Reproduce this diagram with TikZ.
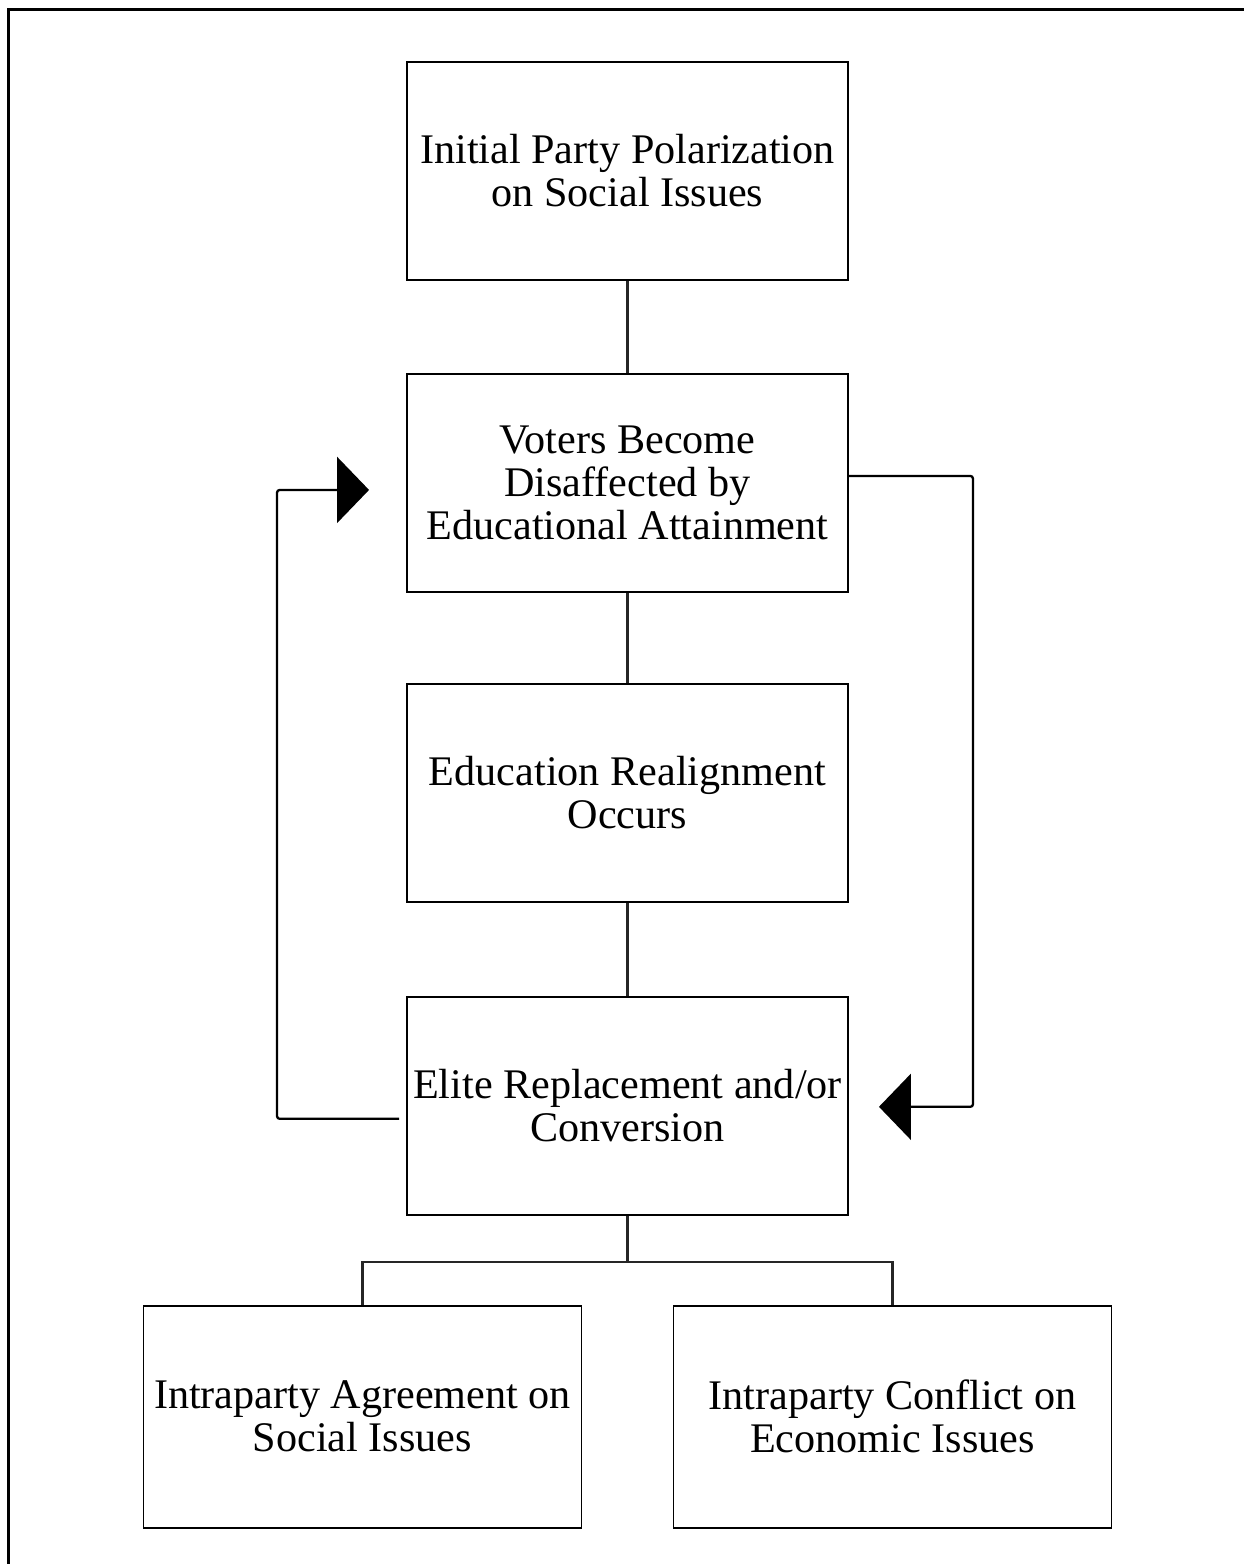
\documentclass[tikz,border=0pt]{standalone}
\usepackage{fontspec}
\setmainfont{Liberation Serif}
\usetikzlibrary{arrows.meta,positioning}

\tikzset{
  stage/.style={draw, line width=1.1pt, minimum width=8.82cm, minimum height=4.36cm,
                align=center, inner sep=2pt, font=\fontsize{24}{24.5}\selectfont},
  link/.style={draw=black!85, line width=1.3pt},
  loop/.style={draw, line width=1.3pt, rounded corners=1.5pt,
               -{Triangle[length=0.64cm,width=1.32cm]}}
}

\begin{document}
\begin{tikzpicture}[node distance=1.84cm]
        \useasboundingbox (0,0) rectangle (24.88,-31.28);
        % frame
        \draw[line width=1.7pt] (0.17,-31.5) -- (0.17,-0.19) -- (25.1,-0.19);

        \node[stage]  (polar) at (12.55,-3.42)     {Initial Party Polarization\\on Social Issues};
        \node[stage]  (voters)  [below=of polar]   {Voters Become\\Disaffected by\\Educational Attainment};
        \node[stage]  (realign) [below=1.80cm of voters]  {Education Realignment\\Occurs};
        \node[stage]  (elite)   [below=1.86cm of realign] {Elite Replacement and/or\\Conversion};
        \node[stage, minimum width=8.76cm, minimum height=4.44cm]  (agree)
              [below=1.78cm of elite, xshift=-5.3cm] {Intraparty Agreement on\\Social Issues};
        \node[stage, minimum width=8.76cm, minimum height=4.44cm]  (conflict)
              [below=1.78cm of elite, xshift=5.3cm]  {Intraparty Conflict on\\Economic Issues};

        \path[link] (polar) -- (voters)
                    (voters) -- (realign)
                    (realign) -- (elite);
        \path[link] (elite.south) -- ++(0,-0.92) coordinate (fork)
                    (fork) -| (agree.north)
                    (fork) -| (conflict.north);

        % feedback loops
        \coordinate (startL) at ([shift={(-0.14,-0.26)}]elite.west);
        \coordinate (tipL)   at ([shift={(-0.74,-0.14)}]voters.west);
        \coordinate (startR) at ([yshift=0.14cm]voters.east);
        \coordinate (tipR)   at ([shift={(0.6,-0.02)}]elite.east);
        \draw[loop] (startL) -- ++(-2.44,0) |- (tipL);
        \draw[loop] (startR) -- ++(2.48,0) |- (tipR);
\end{tikzpicture}
\end{document}
